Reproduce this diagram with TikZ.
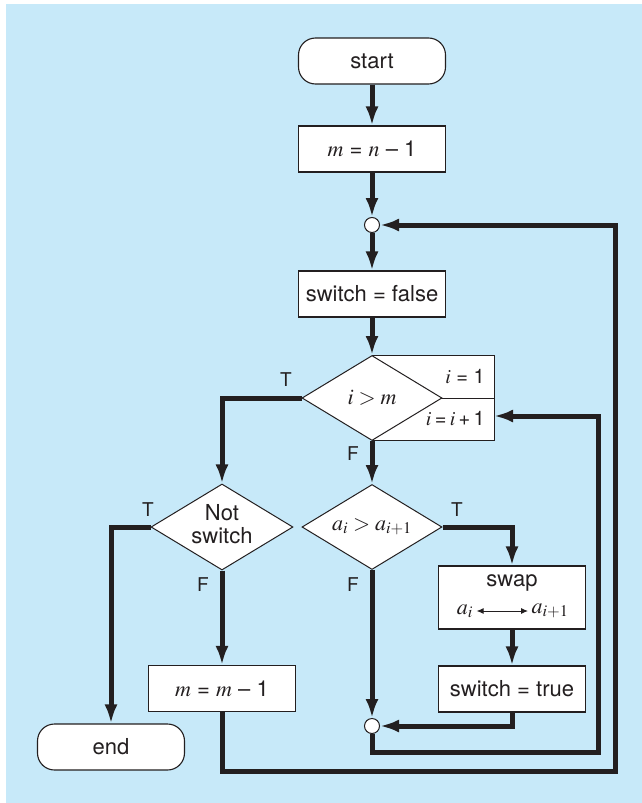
\documentclass[tikz,border=0pt]{standalone}
\usepackage{mathptmx}
\usepackage{fontspec}
\setmainfont{TeX Gyre Heros}
\usetikzlibrary{arrows.meta,shapes.geometric}
\definecolor{skyblue}{RGB}{199,233,249}
\definecolor{inkblack}{RGB}{35,31,32}

\begin{document}
\begin{tikzpicture}[x=1pt,y=-1pt,>={Latex[length=19pt,width=13pt]},
  every node/.style={font=\fontsize{22}{26}\selectfont,text=inkblack},
  box/.style={draw=inkblack,line width=1.1pt,fill=white,minimum width=147pt,minimum height=46pt,inner sep=0pt},
  term/.style={box,rounded corners=17pt},
  test/.style={draw=inkblack,line width=1pt,fill=white,diamond,aspect=1.65,minimum width=140pt,minimum height=85pt,inner sep=0pt},
  joint/.style={draw=inkblack,line width=1pt,fill=white,circle,minimum size=15pt,inner sep=0pt},
  flow/.style={line width=5pt,draw=inkblack},
  tf/.style={font=\fontsize{19}{22}\selectfont},
  side/.style={anchor=east,inner sep=0pt,font=\fontsize{20}{24}\selectfont}]
 \useasboundingbox (0,0) rectangle (642,803);
 \fill[skyblue] (6,4) rectangle (642,803);
 % main column
 \node[term] (s) at (372,61) {start};
 \node[box] (m1) at (372,149) {$m$ = $n$ -- 1};
 \node[joint] (c1) at (372,225) {};
 \node[box] (sf) at (372,294) {switch = false};
 \draw[draw=inkblack,line width=1pt,fill=white] (372,355) rectangle (494,440);
 \draw[draw=inkblack,line width=1pt] (372,398) -- (494,398);
 \node[test] (d1) at (372,398) {$i > m$};
 \node[side] (i1) at (485,377) {$i$ = 1};
 \node[side] (i2) at (485,419) {$i$\,=\,$i$\,+\,1};
 \coordinate (inc) at (494,416);
 \node[test] (d2) at (222,527) {\begin{tabular}{@{}c@{}}Not\\[-3pt]switch\end{tabular}};
 \node[test] (d3) at (372,527) {$a_i > a_{i+1}$};
 \node[box,minimum height=63pt] (sw) at (512,597.5) {};
 \node (swt) at (512,583) {swap};
 \node (ai) at (465,611) {$a_i$};
 \node (aj) at (550,611) {$a_{i+1}$};
 \draw[<->,>={Latex[length=7pt,width=6pt]},line width=1pt,draw=inkblack] (ai) -- (aj);
 \node[box] (st) at (512,689) {switch = true};
 \node[box] (m2) at (222,688.5) {$m$ = $m$ -- 1};
 \node[term] (e) at (111,747) {end};
 \node[joint] (c2) at (372,726) {};
 % branch labels
 \node[tf] (t1) at (286,380) {T};
 \node[tf] (f1) at (353,454) {F};
 \node[tf] (t2) at (148,510) {T};
 \node[tf] (f2) at (203,585) {F};
 \node[tf] (t3) at (457,510) {T};
 \node[tf] (f3) at (353,585) {F};
 % connectors
 \draw[flow,->] (s) -- (m1);
 \draw[flow,->] (m1) -- (c1);
 \draw[flow,->] (c1) -- (sf);
 \draw[flow,->] (sf) -- (d1.north);
 \draw[flow,->] (d1.west) -| (d2.north);
 \draw[flow,->] (d1.south) -- (d3.north);
 \draw[flow,->] (d2.west) -| (e.north);
 \draw[flow,->] (d2.south) -- (m2.north);
 \draw[flow,->] (d3.east) -| (sw.north);
 \draw[flow,->] (d3.south) -- (c2.north);
 \draw[flow,->] (sw.south) -- (st.north);
 \draw[flow,->] (st.south) |- (c2.east);
 \draw[flow,->] (c2.south) -- (372,752) -- (598,752) -- (598,416) -- (inc);
 \draw[flow,->] (m2.south) -- (222,771) -- (615,771) -- (615,225) -- (c1.east);
\end{tikzpicture}
\end{document}
